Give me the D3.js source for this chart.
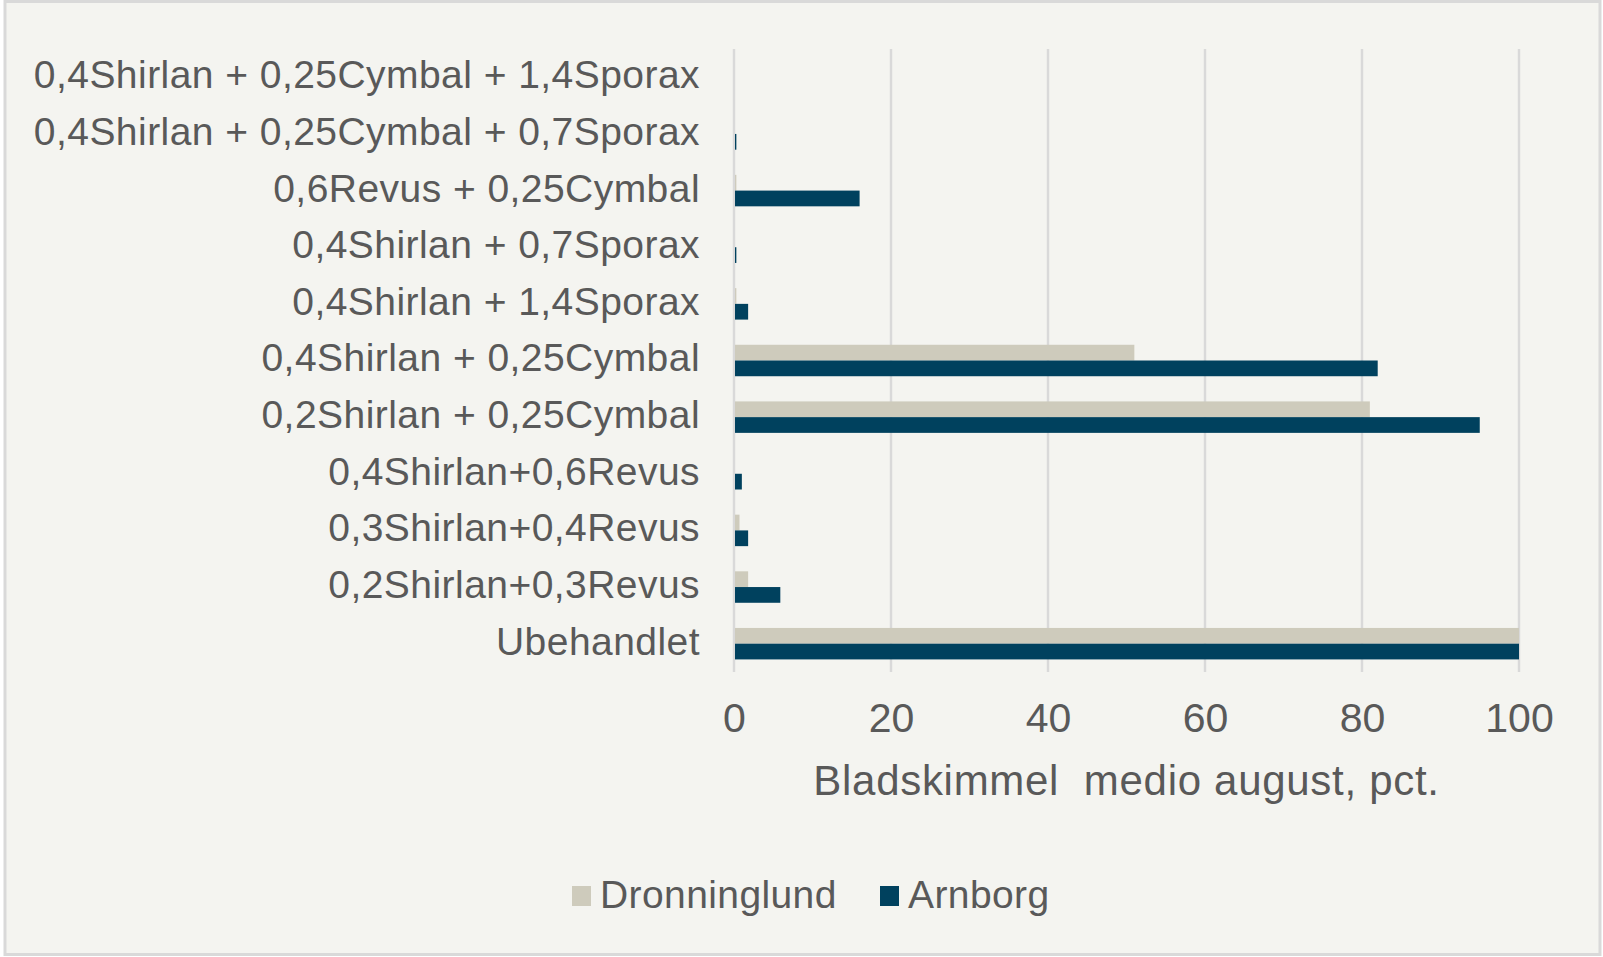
<!DOCTYPE html>
<html>
<head>
<meta charset="utf-8">
<script src="https://cdn.jsdelivr.net/npm/d3@7"></script>
<style>
    body { margin: 0; background: #ffffff; }
    text { font-family: 'Liberation Sans', Arial, sans-serif; fill: #595959; }
</style>
</head>
<body>
<div id="chart"></div>
<script>
    // behandlinger, top to bottom as in the chart
    var categories = [
        '0,4Shirlan + 0,25Cymbal + 1,4Sporax',
        '0,4Shirlan + 0,25Cymbal + 0,7Sporax',
        '0,6Revus + 0,25Cymbal',
        '0,4Shirlan + 0,7Sporax',
        '0,4Shirlan + 1,4Sporax',
        '0,4Shirlan + 0,25Cymbal',
        '0,2Shirlan + 0,25Cymbal',
        '0,4Shirlan+0,6Revus',
        '0,3Shirlan+0,4Revus',
        '0,2Shirlan+0,3Revus',
        'Ubehandlet'
    ];
    var series = ['Dronninglund', 'Arnborg'];
    var dronninglund = [0, 0, 0.3, 0, 0.3, 51, 81, 0, 0.7, 1.8, 100];
    var arnborg = [0, 0.3, 16, 0.3, 1.8, 82, 95, 1, 1.8, 5.9, 100];
    var xTicks = [0, 20, 40, 60, 80, 100];
    var xTitle = 'Bladskimmel  medio august, pct.';

    var colors = { 'Dronninglund': '#cecbbc', 'Arnborg': '#00415e' };

    var W = 1603, H = 957;
    var plot = { left: 734, right: 1519, top: 49, bottom: 672 };

    var svg = d3.select('#chart').append('svg')
        .attr('width', W)
        .attr('height', H);

    svg.append('rect')
        .attr('x', 5).attr('y', 1.5)
        .attr('width', W - 8).attr('height', H - 4)
        .attr('fill', '#f4f4f0')
        .attr('stroke', '#d9d9d9')
        .attr('stroke-width', 3);

    var x = d3.scaleLinear().domain([0, 100]).range([plot.left, plot.right]);
    var y = d3.scaleBand().domain(categories).range([plot.top, plot.bottom]);
    var ySub = d3.scaleBand().domain(series).range([0, y.bandwidth()]).paddingOuter(0.8);

    // gridlines
    svg.append('g').selectAll('line')
        .data(xTicks)
        .enter().append('line')
        .attr('x1', function(d){ return x(d); })
        .attr('x2', function(d){ return x(d); })
        .attr('y1', plot.top)
        .attr('y2', plot.bottom)
        .attr('stroke', '#d9d9d9')
        .attr('stroke-width', 2.5);

    // bars
    var rows = categories.map(function(c, i){
        return { cat: c, vals: [['Dronninglund', dronninglund[i]], ['Arnborg', arnborg[i]]] };
    });

    var groups = svg.append('g').selectAll('g.row')
        .data(rows)
        .enter().append('g')
        .attr('class', 'row')
        .attr('transform', function(d){ return 'translate(0,' + y(d.cat) + ')'; });

    groups.selectAll('rect')
        .data(function(d){ return d.vals; })
        .enter().append('rect')
        .attr('x', x(0) + 1)
        .attr('y', function(d){ return ySub(d[0]); })
        .attr('width', function(d){ return Math.max(0, x(d[1]) - x(0) - 1); })
        .attr('height', ySub.bandwidth())
        .attr('fill', function(d){ return colors[d[0]]; });

    // category labels
    svg.append('g').selectAll('text')
        .data(categories)
        .enter().append('text')
        .attr('x', 700)
        .attr('y', function(d){ return y(d) + y.bandwidth() / 2; })
        .attr('dy', '0.28em')
        .attr('text-anchor', 'end')
        .attr('font-size', 39)
        .attr('letter-spacing', 0.45)
        .text(function(d){ return d; });

    // x tick labels
    var xAxis = svg.append('g')
        .attr('transform', 'translate(0,' + plot.bottom + ')')
        .call(d3.axisBottom(x).tickValues(xTicks).tickSize(0).tickPadding(0));
    xAxis.select('.domain').remove();
    xAxis.selectAll('text')
        .attr('y', 60)
        .attr('dy', 0)
        .attr('font-size', 41)
        .attr('font-family', "'Liberation Sans', Arial, sans-serif")
        .attr('fill', '#595959');

    // axis title
    svg.append('text')
        .attr('x', (plot.left + plot.right) / 2)
        .attr('y', 795)
        .attr('text-anchor', 'middle')
        .attr('font-size', 42)
        .attr('letter-spacing', 0.7)
        .attr('xml:space', 'preserve')
        .style('white-space', 'pre')
        .text(xTitle);

    // legend
    var legend = svg.append('g').selectAll('g')
        .data([[572, 'Dronninglund'], [880, 'Arnborg']])
        .enter().append('g')
        .attr('transform', function(d){ return 'translate(' + d[0] + ',0)'; });

    legend.append('rect')
        .attr('x', 0).attr('y', 886)
        .attr('width', 19).attr('height', 20)
        .attr('fill', function(d){ return colors[d[1]]; });

    legend.append('text')
        .attr('x', 28)
        .attr('y', 908)
        .attr('font-size', 39)
        .attr('letter-spacing', 0.4)
        .text(function(d){ return d[1]; });
</script>
</body>
</html>
